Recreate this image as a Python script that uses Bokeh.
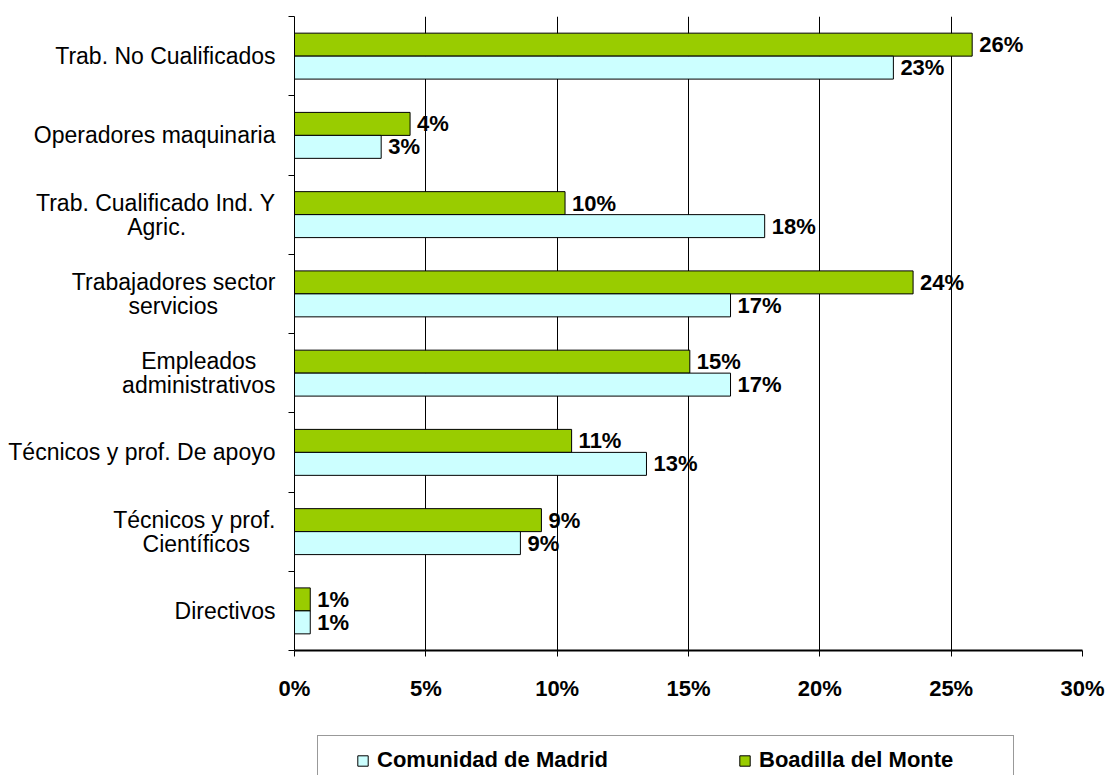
from bokeh.plotting import figure
from bokeh.layouts import column
from bokeh.models import (Range1d, FixedTicker, Legend, LegendItem, ColumnDataSource,
                          LabelSet, PrintfTickFormatter)
from bokeh.core.properties import value
from bokeh.embed import file_html
from bokeh.resources import INLINE

# ---- data (top to bottom as displayed) ----
NB = "\u00a0"
categories = ["Trab. No Cualificados", "Operadores maquinaria",
              "Trab. Cualificado Ind. Y\nAgric." + NB * 14,
              "Trabajadores sector\nservicios" + NB * 9,
              "Empleados" + NB * 3 + "\nadministrativos",
              "Técnicos y prof. De apoyo",
              "Técnicos y prof.\nCientíficos" + NB * 4,
              "Directivos"]
boadilla = [25.8, 4.4, 10.3, 23.55, 15.05, 10.55, 9.4, 0.6]
madrid = [22.8, 3.3, 17.9, 16.6, 16.6, 13.4, 8.6, 0.6]
x_ticks = [0, 5, 10, 15, 20, 25, 30]
series_names = ["Comunidad de Madrid", "Boadilla del Monte"]

GREEN = "#99CC00"
CYAN = "#CCFFFF"
FONT = "Liberation Sans"

n = len(categories)
centers = [n - i - 0.5 for i in range(n)]

src_b = ColumnDataSource(dict(y=[c + 0.145 for c in centers], v=boadilla,
                              t=[f"{v:.0f}%" for v in boadilla]))
src_m = ColumnDataSource(dict(y=[c - 0.145 for c in centers], v=madrid,
                              t=[f"{v:.0f}%" for v in madrid]))

p = figure(width=1107, height=720, output_backend="svg", toolbar_location=None,
           x_range=Range1d(0, 30), y_range=Range1d(0, n),
           min_border_left=294, min_border_right=25, min_border_top=16, min_border_bottom=70)
p.outline_line_color = None
p.background_fill_color = "white"
p.border_fill_color = "white"

r_b = p.hbar(y="y", right="v", left=0, height=0.29, source=src_b,
             fill_color=GREEN, line_color="black", line_width=1)
r_m = p.hbar(y="y", right="v", left=0, height=0.29, source=src_m,
             fill_color=CYAN, line_color="black", line_width=1)

for s in (src_b, src_m):
    p.add_layout(LabelSet(x="v", y="y", text="t", source=s, x_offset=7, y_offset=0,
                          text_baseline="middle", text_font=value(FONT),
                          text_font_style="bold", text_font_size="22px", text_color="black"))

# x axis
xax = p.xaxis[0]
xax.ticker = FixedTicker(ticks=x_ticks)
xax.formatter = PrintfTickFormatter(format="%d%%")
xax.axis_line_color = "black"
xax.axis_line_width = 2
xax.major_tick_out = 6
xax.major_tick_in = 0
xax.minor_tick_out = 0
xax.minor_tick_in = 0
xax.major_tick_line_color = "black"
xax.major_label_text_font = FONT
xax.major_label_text_font_style = "bold"
xax.major_label_text_font_size = "22px"
xax.major_label_text_color = "black"
xax.major_label_standoff = 19

# y axis: labels at centers, ticks at category boundaries
yax = p.yaxis[0]
yax.ticker = FixedTicker(ticks=centers, minor_ticks=list(range(n + 1)))
yax.major_label_overrides = {c: lab for c, lab in zip(centers, categories)}
yax.axis_line_color = "black"
yax.axis_line_width = 1
yax.major_tick_out = 0
yax.major_tick_in = 0
yax.minor_tick_out = 6
yax.minor_tick_in = 0
yax.minor_tick_line_color = "black"
yax.major_label_text_font = FONT
yax.major_label_text_font_size = "23px"
yax.major_label_text_line_height = 0.92
yax.major_label_text_color = "black"
yax.major_label_standoff = 13

p.xgrid.ticker = FixedTicker(ticks=x_ticks)
p.xgrid.grid_line_color = "black"
p.xgrid.grid_line_width = 1
p.ygrid.grid_line_color = None

# ---- legend strip below the chart (same series, plotted out of its view) ----
q = figure(width=1107, height=55, output_backend="svg", toolbar_location=None,
           x_axis_type=None, y_axis_type=None, x_range=Range1d(0, 30), y_range=Range1d(100, 101),
           min_border_left=0, min_border_right=0, min_border_top=0, min_border_bottom=0)
q.outline_line_color = None
q.xgrid.visible = False
q.ygrid.visible = False
q_m = q.hbar(y="y", right="v", left=0, height=0.29, source=src_m,
             fill_color=CYAN, line_color="black", line_width=1)
q_b = q.hbar(y="y", right="v", left=0, height=0.29, source=src_b,
             fill_color=GREEN, line_color="black", line_width=1)
q_box = q.hbar(y="y", right="v", left=0, height=0.29, source=src_b,
               fill_alpha=0, line_alpha=0)

box = Legend(items=[LegendItem(label="", renderers=[q_box])], orientation="horizontal",
             location=(23, -9), padding=11, glyph_width=13, glyph_height=13,
             label_standoff=8, label_width=652, label_height=25, label_text_font_size="22px",
             border_line_color="#333333", border_line_width=1,
             background_fill_color="white", background_fill_alpha=1)
leg = Legend(items=[LegendItem(label=series_names[0], renderers=[q_m]),
                    LegendItem(label=series_names[1], renderers=[q_b])],
             orientation="horizontal", location=(51, -9), padding=11,
             glyph_width=13, glyph_height=13, label_standoff=8, spacing=130, label_height=25,
             label_text_font=FONT, label_text_font_style="bold", label_text_font_size="22px",
             label_text_color="black", border_line_alpha=0, background_fill_alpha=0)
q.add_layout(box, "center")
q.add_layout(leg, "center")

layout = column(p, q, spacing=0)
open("out.html", "w").write(file_html(layout, INLINE))
